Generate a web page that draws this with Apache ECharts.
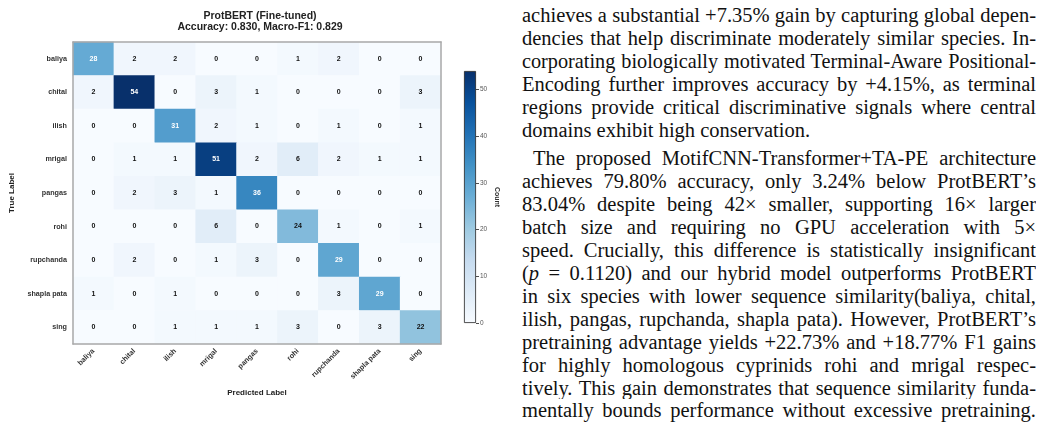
<!DOCTYPE html>
<html><head><meta charset="utf-8">
<script src="https://cdn.jsdelivr.net/npm/echarts@6/dist/echarts.min.js"></script>
<style>
html,body{margin:0;padding:0;width:1037px;height:428px;overflow:hidden;background:#fff}
#chart{position:absolute;left:0;top:0;width:520px;height:428px}
#text{position:absolute;left:522px;top:4px;width:514px;font-family:'Liberation Serif','Times New Roman',serif;font-size:20.5px;line-height:22.95px;color:#111}
.l{text-align:justify;text-align-last:justify;height:22.95px;overflow:hidden;white-space:normal}
.last{text-align-last:left}
.ind{text-indent:11px}
.gap{margin-top:5.5px}
</style></head><body>
<div id="chart"></div>
<div id="text"></div>
<script>
// ---- data ----
const categories = ['baliya','chital','ilish','mrigal','pangas','rohi','rupchanda','shapla pata','sing'];
const rowBaliya     = [28, 2, 2, 0, 0, 1, 2, 0, 0];
const rowChital     = [2, 54, 0, 3, 1, 0, 0, 0, 3];
const rowIlish      = [0, 0, 31, 2, 1, 0, 1, 0, 1];
const rowMrigal     = [0, 1, 1, 51, 2, 6, 2, 1, 1];
const rowPangas     = [0, 2, 3, 1, 36, 0, 0, 0, 0];
const rowRohi       = [0, 0, 0, 6, 0, 24, 1, 0, 1];
const rowRupchanda  = [0, 2, 0, 1, 3, 0, 29, 0, 0];
const rowShaplaPata = [1, 0, 1, 0, 0, 0, 3, 29, 0];
const rowSing       = [0, 0, 1, 1, 1, 3, 0, 3, 22];
const colorbarTicks = [0, 10, 20, 30, 40, 50];
const titleLines = ['ProtBERT (Fine-tuned)', 'Accuracy: 0.830, Macro-F1: 0.829'];

const para1 = [
  'achieves a substantial +7.35% gain by capturing global depen-',
  'dencies that help discriminate moderately similar species. In-',
  'corporating biologically motivated Terminal-Aware Positional-',
  'Encoding further improves accuracy by +4.15%, as terminal',
  'regions provide critical discriminative signals where central',
  'domains exhibit high conservation.'
];
const para2 = [
  'The proposed MotifCNN-Transformer+TA-PE architecture',
  'achieves 79.80% accuracy, only 3.24% below ProtBERT\u2019s',
  '83.04% despite being 42\u00d7 smaller, supporting 16\u00d7 larger',
  'batch size and requiring no GPU acceleration with 5\u00d7',
  'speed. Crucially, this difference is statistically insignificant',
  '(<i>p</i> = 0.1120) and our hybrid model outperforms ProtBERT',
  'in six species with lower sequence similarity(baliya, chital,',
  'ilish, pangas, rupchanda, shapla pata). However, ProtBERT\u2019s',
  'pretraining advantage yields +22.73% and +18.77% F1 gains',
  'for highly homologous cyprinids rohi and mrigal respec-',
  'tively. This gain demonstrates that sequence similarity funda-',
  'mentally bounds performance without excessive pretraining.'
];

// ---- text column ----
const tc = document.getElementById('text');
function addLines(lines, first, isLastPara) {
  lines.forEach((s, i) => {
    const d = document.createElement('div');
    d.className = 'l';
    if (i === 0 && first) d.classList.add('ind', 'gap');
    if (i === lines.length - 1 && !isLastPara) d.classList.add('last');
    d.innerHTML = s;
    tc.appendChild(d);
  });
}
addLines(para1, false, false);
addLines(para2, true, true);
Array.from(tc.children).forEach(el => {
  let fs = 20.5;
  while (el.scrollHeight > 25 && fs > 14) { fs -= 0.25; el.style.fontSize = fs + 'px'; }
});

// ---- chart ----
const matrix = [rowBaliya, rowChital, rowIlish, rowMrigal, rowPangas, rowRohi, rowRupchanda, rowShaplaPata, rowSing];
const vmax = Math.max(...matrix.flat());
const heatData = [];
matrix.forEach((row, r) => row.forEach((v, c) => heatData.push([c, r, v])));
const blues = ['#f7fbff','#deebf7','#c6dbef','#9ecae1','#6baed6','#4292c6','#2171b5','#08519c','#08306b'];
const FONT = "'Liberation Sans', Arial, Helvetica, sans-serif";
const frameLine = { show: true, lineStyle: { color: '#a9a9a9', width: 1.5 } };

const chart = echarts.init(document.getElementById('chart'), null, { renderer: 'canvas' });
chart.setOption({
  animation: false,
  textStyle: { fontFamily: FONT },
  title: {
    text: titleLines.join('\n'),
    left: 255, top: 5, textAlign: 'center',
    textStyle: { fontFamily: FONT, fontSize: 10.5, fontWeight: 'bold', color: '#222', lineHeight: 11.5 }
  },
  grid: [
    { left: 68, top: 42, width: 373, height: 302 },
    { left: 464, top: 71, width: 12, height: 252 }
  ],
  xAxis: [
    { gridIndex: 0, type: 'category', data: categories, position: 'bottom', z: 5,
      axisLine: frameLine, axisTick: { show: false }, splitArea: { show: false },
      axisLabel: { rotate: 45, interval: 0, fontSize: 7.2, fontWeight: 'bold', color: '#333', margin: 6 },
      name: 'Predicted Label', nameLocation: 'middle', nameGap: 45,
      nameTextStyle: { fontSize: 8, fontWeight: 'bold', color: '#222' } },
    { gridIndex: 0, type: 'category', data: categories, position: 'top', z: 5,
      axisLine: frameLine, axisTick: { show: false }, axisLabel: { show: false } },
    { gridIndex: 1, type: 'category', data: ['cb'], show: false }
  ],
  yAxis: [
    { gridIndex: 0, type: 'category', data: categories, inverse: true, position: 'left', z: 5,
      axisLine: frameLine, axisTick: { show: false }, splitArea: { show: false },
      axisLabel: { fontSize: 7.2, fontWeight: 'bold', color: '#333', margin: 6 },
      name: 'True Label', nameLocation: 'middle', nameGap: 57, nameRotate: 90,
      nameTextStyle: { fontSize: 8, fontWeight: 'bold', color: '#222' } },
    { gridIndex: 0, type: 'category', data: categories, inverse: true, position: 'right', z: 5,
      axisLine: frameLine, axisTick: { show: false }, axisLabel: { show: false } },
    { gridIndex: 1, type: 'value', min: 0, max: vmax, position: 'right',
      splitLine: { show: false }, axisLine: { show: false },
      axisTick: { show: true, length: 3, customValues: colorbarTicks, lineStyle: { color: '#222', width: 0.8 } },
      axisLabel: { fontSize: 6.5, color: '#555', margin: 4, customValues: colorbarTicks },
      name: 'Count', nameLocation: 'middle', nameRotate: -90, nameGap: 17,
      nameTextStyle: { fontSize: 7, fontWeight: 'bold', color: '#333' } }
  ],
  visualMap: { show: false, seriesIndex: 0, min: 0, max: vmax, inRange: { color: blues } },
  series: [
    { type: 'heatmap', xAxisIndex: 0, yAxisIndex: 0, data: heatData, z: 2,
      label: { show: true, fontSize: 7, fontWeight: 'bold',
        formatter: p => (p.value[2] > vmax * 0.5 ? '{w|' : '{b|') + p.value[2] + '}',
        rich: { w: { color: '#fff', fontSize: 7, fontWeight: 'bold' }, b: { color: '#111', fontSize: 7, fontWeight: 'bold' } } },
      itemStyle: { borderWidth: 0 },
      emphasis: { disabled: true } },
    { type: 'bar', xAxisIndex: 2, yAxisIndex: 2, data: [vmax], barWidth: '100%', silent: true,
      itemStyle: {
        color: new echarts.graphic.LinearGradient(0, 1, 0, 0, blues.map((c, i) => ({ offset: i / (blues.length - 1), color: c }))),
        borderColor: '#222', borderWidth: 0.8
      } }
  ]
});
</script>
</body></html>
